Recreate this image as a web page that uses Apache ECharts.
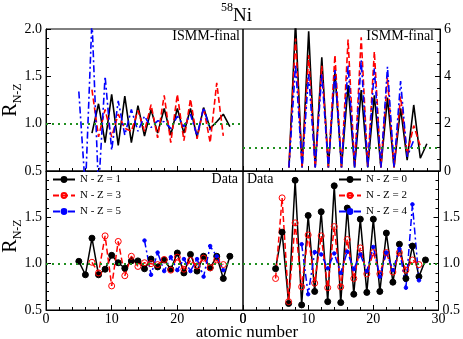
<!DOCTYPE html>
<html>
<head>
<meta charset="utf-8">
<script src="https://cdn.jsdelivr.net/npm/echarts@6/dist/echarts.min.js"></script>
<style>
html, body { margin: 0; padding: 0; background: #fff; }
#chart { width: 463px; height: 339px; }
</style>
</head>
<body>
<div id="chart"></div>
<script>
// ISMM-final, oben links (N-Z = 1, 3, 5)
var tlZ1 = [7, 8, 9, 10, 11, 12, 13, 14, 15, 16, 17, 18, 19, 20, 21, 22, 23, 24, 25, 26, 27, 28];
var tlR1 = [0.90, 1.21, 0.80, 1.31, 0.77, 1.29, 0.80, 1.19, 0.87, 1.15, 0.90, 1.16, 0.88, 1.16, 0.90, 1.16, 0.86, 1.17, 0.95, 1.02, 1.10, 0.97];
var tlZ3 = [7, 8, 9, 10, 11, 12, 13, 14, 15, 16, 17, 18, 19, 20, 21, 22, 23, 24, 25, 26, 27];
var tlR3 = [1.36, 0.86, 1.15, 0.86, 1.10, 0.95, 0.92, 1.14, 0.92, 1.20, 0.85, 1.30, 0.80, 1.31, 0.82, 1.26, 0.84, 1.17, 0.80, 1.43, 0.87];
var tlZ5 = [5, 6, 7, 8, 9, 10, 11, 12, 13, 14, 15, 16, 17, 18, 19, 20, 21, 22, 23, 24, 25];
var tlR5 = [1.34, 0.30, 2.10, 0.30, 1.50, 0.72, 1.24, 0.88, 1.15, 0.92, 1.08, 0.96, 1.03, 1.02, 0.95, 1.08, 0.97, 1.10, 0.87, 1.17, 0.93];

// ISMM-final, oben rechts (N-Z = 0, 2, 4)
var trZ0 = [7, 8, 9, 10, 11, 12, 13, 14, 15, 16, 17, 18, 19, 20, 21, 22, 23, 24, 25, 26, 27, 28];
var trR0 = [0.15, 6.3, 0.15, 5.9, 0.15, 4.8, 0.15, 4.2, 0.15, 3.63, 0.15, 3.42, 0.15, 3.2, 0.15, 3.1, 0.15, 2.65, 0.46, 2.79, 0.54, 1.15];
var trZ2 = [7, 8, 9, 10, 11, 12, 13, 14, 15, 16, 17, 18, 19, 20, 21, 22, 23, 24, 25, 26, 27];
var trR2 = [0.15, 5.6, 0.15, 4.9, 0.15, 4.45, 0.15, 4.9, 0.15, 5.55, 0.15, 5.65, 0.15, 5.05, 0.15, 3.95, 0.15, 3.15, 0.7, 1.92, 1.05];
var trZ4 = [7, 8, 9, 10, 11, 12, 13, 14, 15, 16, 17, 18, 19, 20, 21, 22, 23, 24, 25, 26];
var trR4 = [0.15, 4.5, 0.15, 4.1, 0.15, 4.1, 0.15, 4.27, 0.15, 4.48, 0.15, 4.69, 0.15, 4.34, 0.15, 4.4, 0.15, 3.8, 0.6, 1.3];

// Data, unten links
var blZ1 = [5, 6, 7, 8, 9, 10, 11, 12, 13, 14, 15, 16, 17, 18, 19, 20, 21, 22, 23, 24, 25, 26, 27, 28];
var blR1 = [1.025, 0.88, 1.275, 0.88, 0.94, 1.09, 1.01, 0.95, 1.03, 1.03, 0.945, 1.05, 0.965, 1.04, 0.94, 1.115, 0.90, 1.10, 0.92, 1.08, 0.955, 1.08, 0.84, 1.08];
var blZ3 = [7, 8, 9, 10, 11, 12, 13, 14, 15, 16, 17, 18, 19, 20, 21, 22, 23, 24, 25, 26, 27];
var blR3 = [1.015, 0.90, 1.30, 0.76, 1.24, 0.87, 1.08, 0.97, 1.01, 1.00, 0.99, 1.045, 0.93, 1.07, 0.94, 1.035, 0.975, 1.06, 0.955, 1.04, 0.99];
var blZ5 = [15, 16, 17, 18, 19, 20, 21, 22, 23, 24, 25, 26, 27];
var blR5 = [1.25, 0.88, 1.12, 0.92, 1.07, 0.93, 1.05, 0.92, 1.05, 0.86, 1.19, 1.08, 0.93];

// Data, unten rechts
var brZ0 = [5, 6, 7, 8, 9, 10, 11, 12, 13, 14, 15, 16, 17, 18, 19, 20, 21, 22, 23, 24, 25, 26, 27, 28];
var brR0 = [0.946, 1.34, 0.57, 1.90, 0.555, 1.52, 0.70, 1.56, 0.59, 1.84, 0.58, 1.60, 0.67, 1.48, 0.69, 1.48, 0.70, 1.33, 0.80, 1.21, 0.84, 1.19, 0.86, 1.04];
var brZ2 = [5, 6, 7, 8, 9, 10, 11, 12, 13, 14, 15, 16, 17, 18, 19, 20, 21, 22, 23, 24, 25, 26, 27];
var brR2 = [0.84, 1.71, 0.59, 1.44, 0.75, 1.31, 0.79, 1.30, 0.74, 1.40, 0.75, 1.26, 0.84, 1.17, 0.89, 1.12, 0.89, 1.12, 0.91, 1.12, 0.93, 1.04, 0.99];
var brZ4 = [9, 10, 11, 12, 13, 14, 15, 16, 17, 18, 19, 20, 21, 22, 23, 24, 25, 26, 27];
var brR4 = [1.21, 0.67, 1.125, 1.10, 0.95, 1.11, 0.90, 1.13, 0.94, 1.10, 0.92, 1.18, 0.86, 1.12, 0.93, 1.16, 0.74, 1.64, 0.82];

// Tick-Beschriftungen der x-Achsen (links ohne 30, die "0" rechts liegt auf der Panelgrenze)
var xLabelsLeft = [0, 10, 20];
var xLabelsRight = [0, 10, 20, 30];

var FONT = 'Liberation Serif';
var GREEN = '#1f8f1f';
var DASH = [6, 3];
var DASHDOT = [7, 3, 2, 3];
var X_MARGIN = 2;

function pairs(xs, ys) {
	return xs.map(function (z, i) { return [z, ys[i]]; });
}

// Linie ohne Symbole (ISMM-Panels)
function plain(name, idx, xs, ys, color, type) {
	return {
		name: name, type: 'line', xAxisIndex: idx, yAxisIndex: idx,
		data: pairs(xs, ys), showSymbol: false, symbol: 'none',
		lineStyle: { color: color, width: 1.6, type: type },
		itemStyle: { color: color }
	};
}

// Linie mit Punkten (Data-Panels)
function marked(name, idx, xs, ys, color, type, symbol, size, fill) {
	return {
		name: name, type: 'line', xAxisIndex: idx, yAxisIndex: idx,
		data: pairs(xs, ys), symbol: symbol, symbolSize: size,
		lineStyle: { color: color, width: 1.5, type: type },
		itemStyle: { color: fill, borderColor: color, borderWidth: 1 }
	};
}

function unity(s) {
	s.markLine = {
		silent: true, symbol: ['none', 'none'], label: { show: false },
		lineStyle: { color: GREEN, type: [2, 4], width: 2 },
		data: [{ yAxis: 1 }]
	};
	return s;
}

function xAx(idx, labels) {
	var lab = {
		show: !!labels, margin: X_MARGIN, hideOverlap: false,
		color: '#000', fontFamily: FONT, fontSize: 14
	};
	if (labels) lab.customValues = labels;
	return {
		type: 'value', gridIndex: idx, min: 0, max: 30, interval: 10,
		axisLine: { show: true, onZero: false, lineStyle: { color: '#000' } },
		axisTick: { show: true, inside: true, length: 5, lineStyle: { color: '#000' } },
		minorTick: { show: true, splitNumber: 5, length: 3, lineStyle: { color: '#000' } },
		splitLine: { show: false },
		axisLabel: lab
	};
}

function yAx(idx, pos, min, max, step, minor, dec, hideMax) {
	return {
		type: 'value', gridIndex: idx, position: pos, min: min, max: max, interval: step,
		axisLine: { show: true, onZero: false, lineStyle: { color: '#000' } },
		axisTick: { show: true, inside: true, length: 5, lineStyle: { color: '#000' } },
		minorTick: { show: true, splitNumber: minor, length: 3, lineStyle: { color: '#000' } },
		splitLine: { show: false },
		axisLabel: {
			margin: 4, color: '#000', fontFamily: FONT, fontSize: 14, showMinLabel: true, showMaxLabel: !hideMax, hideOverlap: false,
			formatter: function (v) { return v.toFixed(dec); }
		}
	};
}

function gridBox(left, top, h) {
	return { left: left, top: top, width: 197, height: h, show: true, borderColor: '#000', borderWidth: 1, backgroundColor: 'transparent' };
}

function txt(x, y, s, size, align, valign) {
	var va = valign || 'middle';
	return {
		type: 'text', x: x, y: y, silent: true, z: 10,
		style: { text: s, fontFamily: FONT, fontSize: size, fill: '#000', align: align, textAlign: align, verticalAlign: va, textVerticalAlign: va }
	};
}

function rLabel(y) {
	return {
		type: 'text', x: 11, y: y, rotation: Math.PI / 2, silent: true,
		style: {
			text: '{r|R}{s|N-Z}', align: 'center', textAlign: 'center', verticalAlign: 'middle', textVerticalAlign: 'middle',
			rich: {
				r: { fontFamily: FONT, fontSize: 20, lineHeight: 26, verticalAlign: 'middle', fill: '#000' },
				s: { fontFamily: FONT, fontSize: 12, lineHeight: 12, verticalAlign: 'bottom', fill: '#000' }
			}
		}
	};
}

var chart = echarts.init(document.getElementById('chart'), null, { renderer: 'canvas' });

var legendText = { fontFamily: FONT, fontSize: 11, color: '#000' };

chart.setOption({
	animation: false,
	backgroundColor: '#fff',
	grid: [gridBox(46, 29, 142), gridBox(243, 29, 142), gridBox(46, 171, 139), gridBox(243, 171, 139)],
	xAxis: [xAx(0, null), xAx(1, null), xAx(2, xLabelsLeft), xAx(3, xLabelsRight)],
	yAxis: [
		yAx(0, 'left', 0.5, 2.0, 0.5, 5, 1, false),
		yAx(1, 'right', 0, 6, 2, 4, 0, false),
		yAx(2, 'left', 0.5, 2.0, 0.5, 5, 1, true),
		yAx(3, 'right', 0.5, 2.0, 0.5, 5, 1, true)
	],
	legend: [
		{ data: ['N - Z = 1', 'N - Z = 3', 'N - Z = 5'], orient: 'vertical', left: 52, top: 174, padding: 0,
		  itemWidth: 22, itemHeight: 6, itemGap: 5, textStyle: legendText, selectedMode: false },
		{ data: ['N - Z = 0', 'N - Z = 2', 'N - Z = 4'], orient: 'vertical', left: 338, top: 174, padding: 0,
		  itemWidth: 22, itemHeight: 6, itemGap: 5, textStyle: legendText, selectedMode: false }
	],
	graphic: [
		txt(221, 8, '58', 12, 'left'),
		txt(233, 16, 'Ni', 19, 'left'),
		txt(240, 36, 'ISMM-final', 14, 'right'),
		txt(434, 36, 'ISMM-final', 14, 'right'),
		txt(238, 179, 'Data', 14, 'right'),
		txt(247, 179, 'Data', 14, 'left'),
		// die "0" an der Grenze der unteren Panels wird von ECharts unterdrueckt, daher hier gesetzt
		txt(243, 310 + X_MARGIN, String(xLabelsRight[0]), 14, 'center', 'top'),
		txt(247, 333, 'atomic number', 17, 'center'),
		rLabel(100),
		rLabel(236)
	],
	series: [
		unity(plain('ISMM N - Z = 1', 0, tlZ1, tlR1, '#000', 'solid')),
		plain('ISMM N - Z = 3', 0, tlZ3, tlR3, '#ff0000', DASH),
		plain('ISMM N - Z = 5', 0, tlZ5, tlR5, '#0000ff', DASHDOT),
		unity(plain('ISMM N - Z = 0', 1, trZ0, trR0, '#000', 'solid')),
		plain('ISMM N - Z = 2', 1, trZ2, trR2, '#ff0000', DASH),
		plain('ISMM N - Z = 4', 1, trZ4, trR4, '#0000ff', DASHDOT),
		unity(marked('N - Z = 1', 2, blZ1, blR1, '#000', 'solid', 'circle', 6, '#000')),
		marked('N - Z = 3', 2, blZ3, blR3, '#ff0000', DASH, 'circle', 6, 'rgba(255,255,255,0)'),
		marked('N - Z = 5', 2, blZ5, blR5, '#0000ff', DASHDOT, 'circle', 3.5, '#0000ff'),
		unity(marked('N - Z = 0', 3, brZ0, brR0, '#000', 'solid', 'circle', 6, '#000')),
		marked('N - Z = 2', 3, brZ2, brR2, '#ff0000', DASH, 'circle', 6, 'rgba(255,255,255,0)'),
		marked('N - Z = 4', 3, brZ4, brR4, '#0000ff', DASHDOT, 'circle', 3.5, '#0000ff')
	]
});
</script>
</body>
</html>
